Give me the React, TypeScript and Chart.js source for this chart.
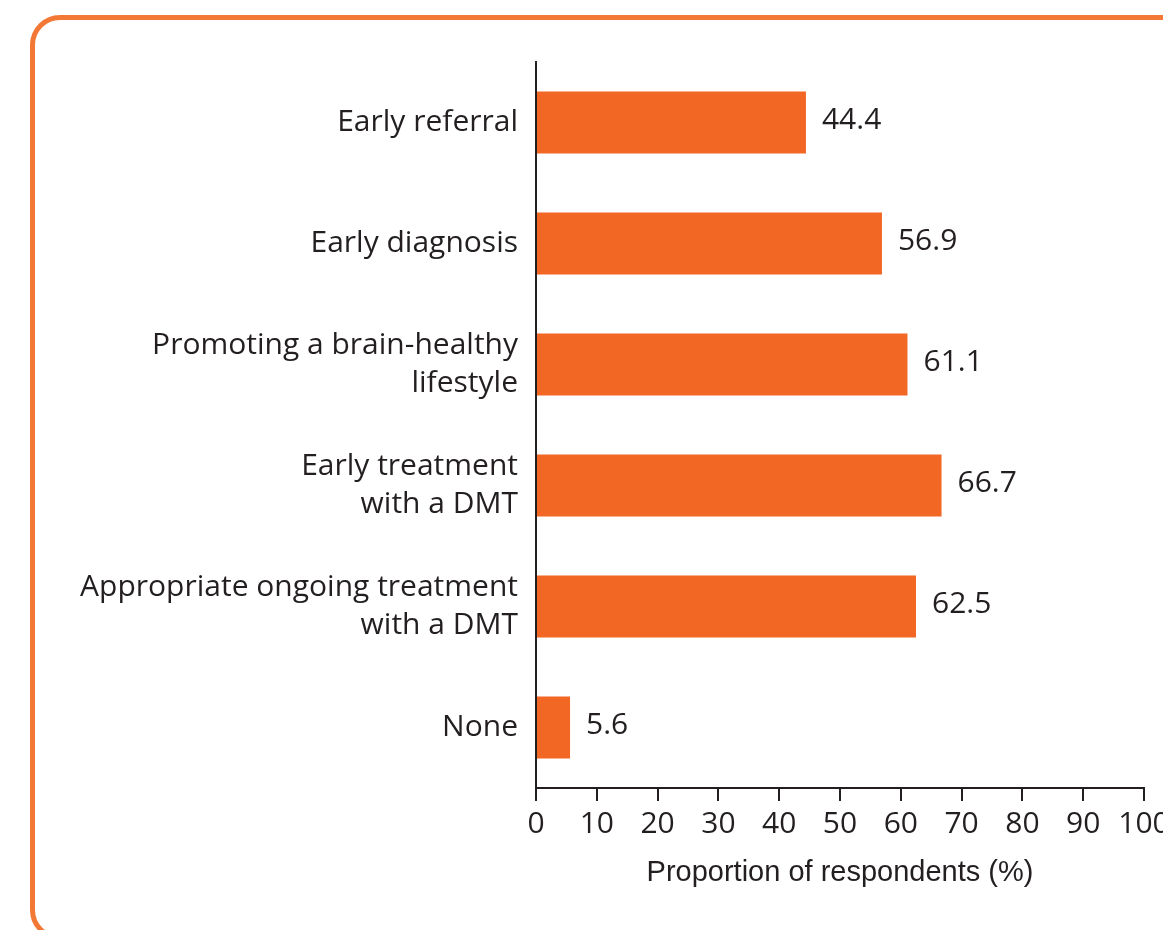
import React, { useEffect, useRef } from "react";
import { Chart, registerables } from "chart.js";

Chart.register(...registerables);

const categories: (string | string[])[] = [
  "Early referral",
  "Early diagnosis",
  ["Promoting a brain-healthy", "lifestyle"],
  ["Early treatment", "with a DMT"],
  ["Appropriate ongoing treatment", "with a DMT"],
  "None",
];
const values: number[] = [44.4, 56.9, 61.1, 66.7, 62.5, 5.6];
const valueLabels: string[] = ["44.4", "56.9", "61.1", "66.7", "62.5", "5.6"];
const xTicks: number[] = [0, 10, 20, 30, 40, 50, 60, 70, 80, 90, 100];
const xTitle = "Proportion of respondents (%)";

const ORANGE = "#f26724";
const INK = "#231f20";
const LABEL_FONT = "'Open Sans', sans-serif";

const valueLabelPlugin = {
  id: "valueLabels",
  afterDatasetsDraw(chart: any) {
    const ctx = chart.ctx;
    const meta = chart.getDatasetMeta(0);
    ctx.save();
    ctx.fillStyle = INK;
    ctx.font = `30px ${LABEL_FONT}`;
    ctx.textAlign = "left";
    ctx.textBaseline = "middle";
    meta.data.forEach((bar: any, i: number) => {
      ctx.fillText(valueLabels[i], bar.x + 16, bar.y - 2);
    });
    ctx.restore();
  },
};

export default function App() {
  const ref = useRef<HTMLCanvasElement | null>(null);
  useEffect(() => {
    if (!ref.current) return;
    const chart = new Chart(ref.current, {
      type: "bar",
      data: {
        labels: categories,
        datasets: [
          {
            data: values,
            backgroundColor: ORANGE,
            borderWidth: 0,
            barPercentage: 0.512,
            categoryPercentage: 1,
          },
        ],
      },
      options: {
        indexAxis: "y",
        animation: false,
        responsive: false,
        maintainAspectRatio: false,
        layout: { padding: { top: 62, right: 19, left: 0, bottom: 40 } },
        plugins: {
          legend: { display: false },
          tooltip: { enabled: false },
        },
        scales: {
          x: {
            type: "linear",
            min: 0,
            max: 100,
            afterBuildTicks: (s: any) => {
              s.ticks = xTicks.map((v) => ({ value: v }));
            },
            afterFit: (s: any) => {
              s.paddingLeft = 0;
              s.paddingRight = 0;
              s.height = 102;
            },
            grid: {
              display: true,
              drawOnChartArea: false,
              drawTicks: true,
              tickLength: 13,
              color: INK,
              lineWidth: 2,
            },
            border: { display: true, color: INK, width: 2 },
            ticks: {
              color: INK,
              font: { family: LABEL_FONT, size: 30 },
              padding: 5,
              maxRotation: 0,
              autoSkip: false,
            },
            title: {
              display: true,
              text: xTitle,
              color: INK,
              font: { family: "'Liberation Sans', Arial, sans-serif", size: 29 },
              padding: { top: 0, bottom: 0 },
            },
          },
          y: {
            afterFit: (s: any) => {
              s.width = 536;
            },
            grid: { display: false, drawTicks: false },
            border: { display: true, color: INK, width: 2 },
            ticks: {
              color: INK,
              font: { family: LABEL_FONT, size: 30, lineHeight: 1.27 },
              padding: 18,
              autoSkip: false,
            },
          },
        },
      },
      plugins: [valueLabelPlugin],
    });
    return () => chart.destroy();
  }, []);

  return (
    <div
      style={{
        position: "fixed",
        left: 0,
        top: 0,
        width: 1163,
        height: 930,
        overflow: "hidden",
        background: "#fff",
      }}
    >
      <div
        style={{
          position: "absolute",
          left: 30,
          top: 15,
          width: 1200,
          height: 925,
          border: "5px solid #f37735",
          borderRadius: 30,
          boxSizing: "border-box",
        }}
      />
      <canvas
        ref={ref}
        width={1163}
        height={930}
        style={{ position: "absolute", left: 0, top: 0, width: 1163, height: 930 }}
      />
    </div>
  );
}
